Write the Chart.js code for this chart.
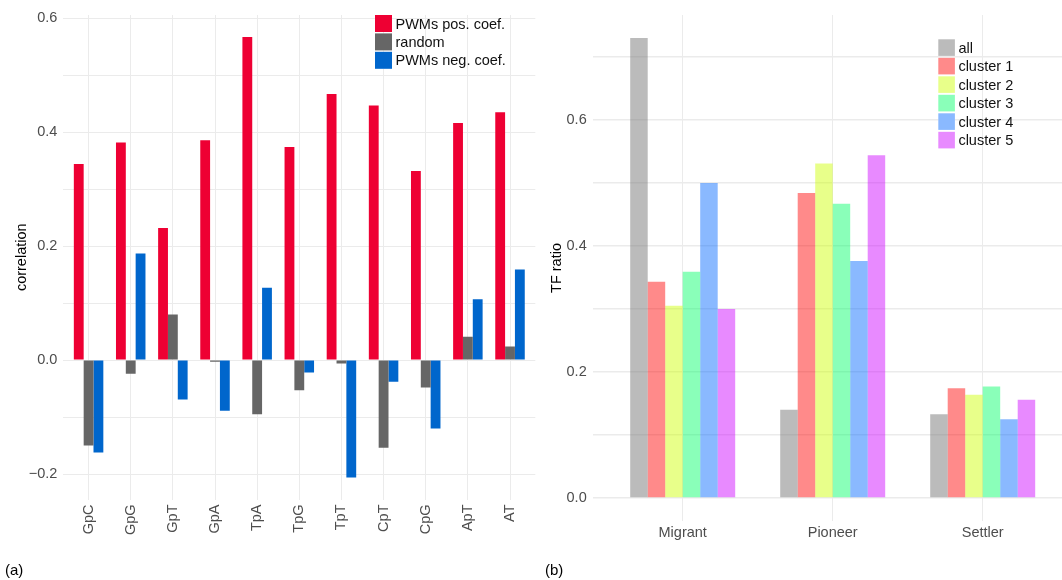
<!DOCTYPE html>
<html>
<head>
<meta charset="utf-8">
<title>correlation / TF ratio</title>
<script src="https://cdn.jsdelivr.net/npm/chart.js@4.4.1/dist/chart.umd.min.js"></script>
<style>
    html, body { margin: 0; padding: 0; background: #fff; overflow: hidden; }
    body { width: 1062px; height: 580px; position: relative; font-family: "Liberation Sans", Arial, sans-serif; }
    .panel { position: absolute; top: 0; }
    .tag { position: absolute; font-size: 15px; line-height: 18px; color: #000; }
</style>
</head>
<body>
<canvas id="corrChart" class="panel" width="540" height="580" style="left:0"></canvas>
<canvas id="ratioChart" class="panel" width="540" height="580" style="left:540px"></canvas>
<div class="tag" style="left:5px; top:561px">(a)</div>
<div class="tag" style="left:545px; top:561px">(b)</div>
<script>
// (a) correlation per dinucleotide
const dinucs = ['GpC', 'GpG', 'GpT', 'GpA', 'TpA', 'TpG', 'TpT', 'CpT', 'CpG', 'ApT', 'AT'];
const posCoef = [0.344, 0.382, 0.232, 0.386, 0.567, 0.374, 0.467, 0.447, 0.332, 0.416, 0.435];
const randomCoef = [-0.150, -0.024, 0.080, -0.003, -0.095, -0.053, -0.006, -0.154, -0.048, 0.041, 0.024];
const negCoef = [-0.162, 0.187, -0.069, -0.089, 0.127, -0.022, -0.206, -0.038, -0.120, 0.107, 0.159];
const corrTicks = [-0.2, -0.1, 0, 0.1, 0.2, 0.3, 0.4, 0.5, 0.6];
const corrTickLabels = ['\u22120.2', '', '0.0', '', '0.2', '', '0.4', '', '0.6'];

// (b) TF ratio per group
const groups = ['Migrant', 'Pioneer', 'Settler'];
const ratioAll = [0.730, 0.140, 0.133];
const ratioC1 = [0.343, 0.484, 0.174];
const ratioC2 = [0.305, 0.531, 0.164];
const ratioC3 = [0.359, 0.467, 0.177];
const ratioC4 = [0.500, 0.376, 0.125];
const ratioC5 = [0.300, 0.544, 0.156];
const ratioTicks = [0, 0.1, 0.2, 0.3, 0.4, 0.5, 0.6, 0.7];
const ratioTickLabels = ['0.0', '', '0.2', '', '0.4', '', '0.6', ''];

const FONT = '"Liberation Sans", Arial, sans-serif';
Chart.defaults.font.family = FONT;
Chart.defaults.font.size = 14.5;

// legend drawn inside the panel, like ggplot's legend.position
const boxLegend = {
    id: 'boxLegend',
    afterDatasetsDraw(chart, args, opts) {
        const ctx = chart.ctx;
        ctx.save();
        ctx.font = '14.5px ' + FONT;
        ctx.textBaseline = 'middle';
        chart.data.datasets.forEach((ds, i) => {
            const top = opts.top + i * opts.step;
            ctx.fillStyle = '#fff';
            ctx.fillRect(opts.left, top, opts.box, opts.box);
            ctx.fillStyle = ds.backgroundColor;
            ctx.fillRect(opts.left, top, opts.box, opts.box);
            ctx.fillStyle = '#111';
            ctx.fillText(ds.label, opts.left + opts.box + 3.5, top + opts.box / 2 + 1);
        });
        ctx.restore();
    }
};

function toPoints(values) {
    return values.map((v, i) => ({x: i, y: v}));
}

function makeChart(id, cats, datasets, yTicks, yLabels, yRange, geo) {
    const ctx = document.getElementById(id).getContext('2d');
    return new Chart(ctx, {
        type: 'bar',
        data: {datasets: datasets},
        plugins: [boxLegend],
        options: {
            responsive: false,
            animation: false,
            devicePixelRatio: 1,
            layout: {padding: {top: 15, right: geo.padRight, bottom: 0, left: 0}},
            datasets: {bar: {categoryPercentage: 0.7, barPercentage: 1.0}},
            plugins: {
                legend: {display: false},
                tooltip: {enabled: false},
                boxLegend: geo.legend
            },
            scales: {
                x: {
                    type: 'linear',
                    bounds: 'data',
                    min: -0.6,
                    max: cats.length - 0.4,
                    offset: false,
                    afterBuildTicks: s => { s.ticks = cats.map((c, i) => ({value: i})); },
                    afterFit: s => { s.height = geo.xHeight; },
                    grid: {color: '#ebebeb', lineWidth: 1, drawTicks: false, offset: false},
                    border: {display: false},
                    ticks: {
                        autoSkip: false,
                        minRotation: geo.rot,
                        maxRotation: geo.rot,
                        padding: geo.xPad,
                        color: '#4d4d4d',
                        callback: (v, i) => cats[i]
                    }
                },
                y: {
                    type: 'linear',
                    bounds: 'data',
                    min: yRange[0],
                    max: yRange[1],
                    afterBuildTicks: s => { s.ticks = yTicks.map(v => ({value: v})); },
                    afterFit: s => { s.width = geo.yWidth; },
                    grid: {color: '#ebebeb', lineWidth: geo.yGrid, drawTicks: false},
                    border: {display: false},
                    title: {
                        display: true,
                        text: geo.yTitle,
                        color: '#000',
                        padding: {top: geo.titlePad, bottom: 0}
                    },
                    ticks: {
                        autoSkip: false,
                        padding: 6,
                        color: '#4d4d4d',
                        callback: (v, i) => yLabels[i]
                    }
                }
            }
        }
    });
}

document.addEventListener('DOMContentLoaded', function () {
    // (a)
    makeChart('corrChart', dinucs, [
        {label: 'PWMs pos. coef.', data: toPoints(posCoef), backgroundColor: '#ee0033'},
        {label: 'random', data: toPoints(randomCoef), backgroundColor: '#666666'},
        {label: 'PWMs neg. coef.', data: toPoints(negCoef), backgroundColor: '#0066cc'}
    ], corrTicks, corrTickLabels, [-0.2447, 0.6057], {
        padRight: 4.7, xHeight: 80.5, yWidth: 63.3, rot: 90, xPad: 5, yGrid: 1,
        yTitle: 'correlation', titlePad: 13,
        legend: {left: 375, top: 15, box: 17, step: 18.4}
    });

    // (b)
    makeChart('ratioChart', groups, [
        {label: 'all', data: toPoints(ratioAll), backgroundColor: 'rgba(120,120,120,0.5)'},
        {label: 'cluster 1', data: toPoints(ratioC1), backgroundColor: 'rgba(255,0,0,0.46)'},
        {label: 'cluster 2', data: toPoints(ratioC2), backgroundColor: 'rgba(204,255,0,0.46)'},
        {label: 'cluster 3', data: toPoints(ratioC3), backgroundColor: 'rgba(0,255,102,0.46)'},
        {label: 'cluster 4', data: toPoints(ratioC4), backgroundColor: 'rgba(0,102,255,0.46)'},
        {label: 'cluster 5', data: toPoints(ratioC5), backgroundColor: 'rgba(204,0,255,0.46)'}
    ], ratioTicks, ratioTickLabels, [-0.0365, 0.7665], {
        padRight: 7.3, xHeight: 59, yWidth: 52.7, rot: 0, xPad: 3, yGrid: 1.5,
        yTitle: 'TF ratio', titlePad: 8,
        legend: {left: 398.3, top: 39.3, box: 16.6, step: 18.5}
    });
});
</script>
</body>
</html>
